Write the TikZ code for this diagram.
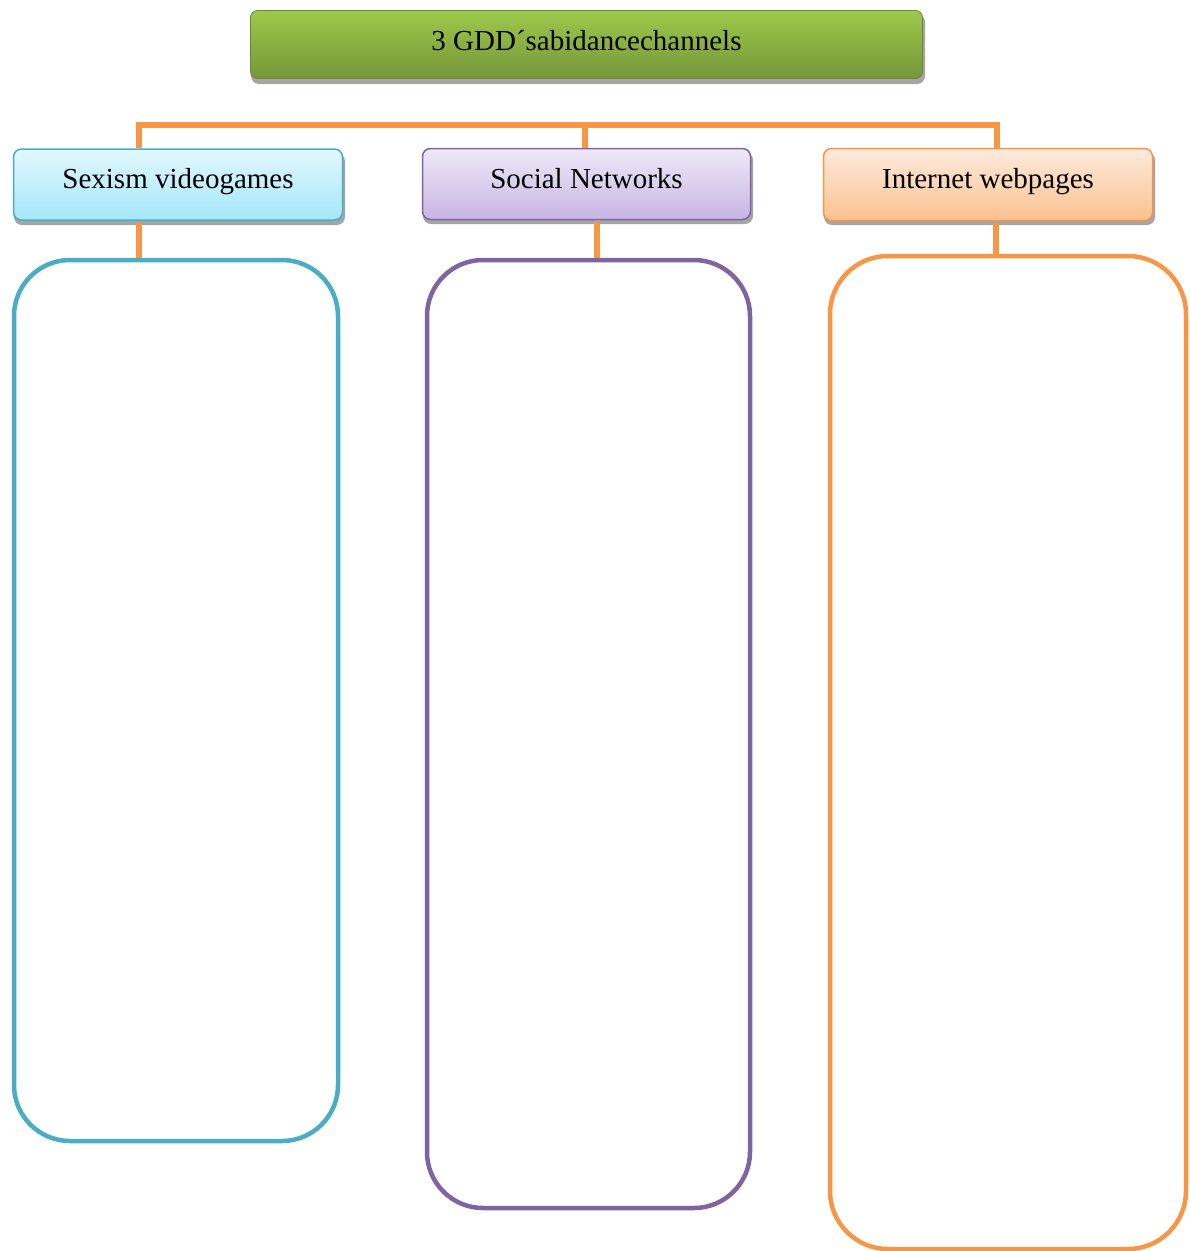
\documentclass[tikz,border=0pt]{standalone}
\usepackage{fontspec}
\setmainfont{Liberation Serif}
\begin{document}
\definecolor{titletop}{HTML}{9DC94B}
\definecolor{titlebot}{HTML}{76963A}
\definecolor{cyanline}{HTML}{4BACC6}
\definecolor{cyantop}{HTML}{E2F8FE}
\definecolor{cyanbot}{HTML}{A5E7FA}
\definecolor{violetline}{HTML}{8064A2}
\definecolor{violettop}{HTML}{EFEAF8}
\definecolor{violetbot}{HTML}{C7B4E3}
\definecolor{orangeline}{HTML}{F79646}
\definecolor{orangetop}{HTML}{FDEBDD}
\definecolor{orangebot}{HTML}{FBC18F}
\definecolor{shadowgray}{HTML}{A5A5A5}
\begin{tikzpicture}[x=1pt,y=-1pt,
  label font/.style={font=\fontsize{29}{34}\selectfont},
  titlebox/.style={rectangle, rounded corners=7pt, inner sep=0pt, label font,
    text height=20pt, text depth=9pt,
    top color=titletop, bottom color=titlebot, draw=titlebot!90!black, line width=0.8pt,
    minimum width=672pt, minimum height=68pt},
  headbox/.style={rectangle, rounded corners=8pt, inner sep=0pt, label font,
    text height=20pt, text depth=12pt,
    line width=1.5pt, minimum width=329pt, minimum height=71pt},
  panel/.style={rectangle, rounded corners=56pt, line width=4.5pt, inner sep=0pt, fill=white},
  link/.style={draw=orangeline, line width=6pt},
  linkshadow/.style={draw=shadowgray, line width=6pt},
  boxshadow/.style={fill=shadowgray, rounded corners=8pt},
]
\useasboundingbox (0,0) rectangle (1190,1251);

% drop shadows of the boxes
\fill[boxshadow] (251,14) rectangle (925,84);
\fill[boxshadow] (14,153) rectangle (345,225);
\fill[boxshadow] (423,152) rectangle (753,224);
\fill[boxshadow] (824,152) rectangle (1155,225);

% title
\node[titlebox] (title) at (586.5,44.5) {3 GDD´sabidancechannels};

% category headers
\node[headbox, draw=cyanline, top color=cyantop, bottom color=cyanbot,
      minimum width=329pt, minimum height=71pt] (h1) at (178,184.5) {Sexism videogames};
\node[headbox, draw=violetline, top color=violettop, bottom color=violetbot,
      minimum width=328pt, minimum height=71pt] (h2) at (586.5,184) {Social Networks};
\node[headbox, draw=orangeline, top color=orangetop, bottom color=orangebot,
      minimum width=329pt, minimum height=72pt] (h3) at (988,184.5) {Internet webpages};

% empty content panels
\node[panel, draw=cyanline, minimum width=324pt, minimum height=881pt] (p1) at (176,700.5) {};
\node[panel, draw=violetline, minimum width=323pt, minimum height=948pt] (p2) at (588.5,734) {};
\node[panel, draw=orangeline, rounded corners=58pt, minimum width=356pt, minimum height=993pt] (p3) at (1008,752.5) {};

% branching bus above the headers
\coordinate (b1) at (139,125);
\coordinate (b2) at (585,125);
\coordinate (b3) at (997,125);
\coordinate (d1) at (h1.north -| b1);
\coordinate (d2) at (h2.north -| b2);
\coordinate (d3) at (h3.north -| b3);
\begin{scope}[shift={(0.5,4)}]
  \draw[linkshadow] (d1) -- (b1) -- (b3) -- (d3);
  \draw[linkshadow] (b2) -- (d2);
\end{scope}
\draw[link] (d1) -- (b1) -- (b3) -- (d3);
\draw[link] (b2) -- (d2);

% stems from the headers down to the panels
\coordinate (s1) at (139,0);
\coordinate (s2) at (597,0);
\coordinate (s3) at (996,0);
\begin{scope}[shift={(0.5,3)}]
  \draw[linkshadow] (h1.south -| s1) -- (p1.north -| s1);
  \draw[linkshadow] (h2.south -| s2) -- (p2.north -| s2);
  \draw[linkshadow] (h3.south -| s3) -- (p3.north -| s3);
\end{scope}
\draw[link] ([yshift=-2pt]h1.south -| s1) -- (p1.north -| s1);
\draw[link] ([yshift=-2pt]h2.south -| s2) -- (p2.north -| s2);
\draw[link] ([yshift=-2pt]h3.south -| s3) -- (p3.north -| s3);
\end{tikzpicture}
\end{document}
